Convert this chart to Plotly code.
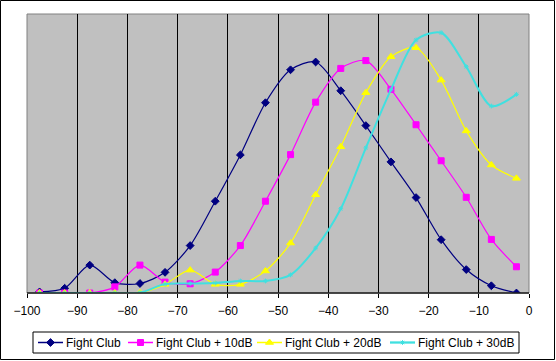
import plotly.graph_objects as go

x_db = [-97.5, -92.5, -87.5, -82.5, -77.5, -72.5, -67.5, -62.5, -57.5, -52.5,
        -47.5, -42.5, -37.5, -32.5, -27.5, -22.5, -17.5, -12.5, -7.5, -2.5]

fight_club = [0.4, 1.7, 10.0, 3.7, 3.4, 7.4, 17.0, 32.9, 49.5, 68.2,
              80.0, 82.8, 72.5, 60.0, 47.0, 34.2, 19.1, 8.4, 2.6, 0.0]
fight_club_10 = [0.0, 0.0, 0.0, 2.2, 10.0, 3.9, 3.3, 7.5, 17.0, 32.9,
                 49.6, 68.4, 80.5, 83.3, 73.0, 60.3, 47.4, 34.3, 19.2, 9.4]
fight_club_20 = [0.0, 0.0, 0.0, 0.0, 0.1, 3.1, 8.2, 3.1, 3.1, 7.9,
                 17.9, 35.2, 52.4, 71.8, 84.7, 87.9, 76.3, 58.1, 45.9, 41.1]
fight_club_30 = [0.0, 0.0, 0.0, 0.0, 0.1, 3.2, 3.4, 3.6, 4.3, 4.3,
                 6.5, 16.1, 30.2, 52.0, 72.9, 90.7, 93.3, 81.1, 67.0, 71.2]

series_names = ["Fight Club", "Fight Club + 10dB", "Fight Club + 20dB", "Fight Club + 30dB"]
tick_vals = [-100, -90, -80, -70, -60, -50, -40, -30, -20, -10, 0]

styles = [
    dict(color="#000080", symbol="diamond", size=6, width=1.2),
    dict(color="#FF00FF", symbol="square", size=6, width=1.2),
    dict(color="#FFFF00", symbol="triangle-up", size=7, width=1.2),
    dict(color="#40E0E0", symbol="asterisk-open", size=4, width=2),
]

# figure geometry (pixels)
W, H = 556, 361
PLOT_L, PLOT_R, PLOT_T, PLOT_B = 27, 529, 14, 293


def px(x):
    return x / W


def py(y):
    return (H - y) / H


# legend layout (pixels)
legend_text_x = [66, 156, 285, 418]
legend_y = 342.5
LB_L, LB_T, LB_R, LB_B = 33, 332, 519, 353

fig = go.Figure()
for name, ys, st in zip(series_names, [fight_club, fight_club_10, fight_club_20, fight_club_30], styles):
    fig.add_trace(go.Scatter(
        x=x_db, y=ys, name=name, mode="lines+markers", showlegend=False,
        line=dict(color=st["color"], width=st["width"], shape="spline", smoothing=0.8),
        marker=dict(color=st["color"], symbol=st["symbol"], size=st["size"],
                    line=dict(color=st["color"], width=1)),
    ))

shapes = [
    # gray plot area (drawn beneath grid and traces)
    dict(type="rect", xref="paper", yref="paper",
         x0=px(PLOT_L), x1=px(PLOT_R), y0=py(PLOT_B), y1=py(PLOT_T),
         fillcolor="#C0C0C0", line=dict(color="#808080", width=1), layer="below"),
    # bottom axis line
    dict(type="line", xref="paper", yref="paper",
         x0=px(PLOT_L), x1=px(PLOT_R), y0=py(PLOT_B), y1=py(PLOT_B),
         line=dict(color="#202020", width=1.5)),
    # chart area border
    dict(type="rect", xref="paper", yref="paper",
         x0=px(0.5), x1=px(W - 1.5), y0=py(H - 1.5), y1=py(0.5),
         line=dict(color="black", width=1)),
    # legend box
    dict(type="rect", xref="paper", yref="paper",
         x0=px(LB_L), x1=px(LB_R), y0=py(LB_B), y1=py(LB_T),
         line=dict(color="black", width=1)),
]
annotations = []
for name, st, tx in zip(series_names, styles, legend_text_x):
    shapes.append(dict(type="line", xref="paper", yref="paper",
                       x0=px(tx - 28), x1=px(tx - 3), y0=py(legend_y), y1=py(legend_y),
                       line=dict(color=st["color"], width=st["width"] + 0.3)))
    annotations.append(dict(xref="paper", yref="paper", x=px(tx - 2), y=py(legend_y),
                            xanchor="left", yanchor="middle", showarrow=False,
                            text=name, font=dict(size=12, color="black")))
    # legend marker on a pixel-scaled legend subplot
    fig.add_trace(go.Scatter(
        x=[tx - 15.5], y=[legend_y], mode="markers", showlegend=False,
        xaxis="x2", yaxis="y2", hoverinfo="skip",
        marker=dict(color=st["color"], symbol=st["symbol"], size=st["size"],
                    line=dict(color=st["color"], width=1)),
    ))

fig.update_layout(
    width=W, height=H,
    margin=dict(l=0, r=0, t=0, b=0, pad=0, autoexpand=False),
    paper_bgcolor="white",
    plot_bgcolor="rgba(0,0,0,0)",
    font=dict(family="Liberation Sans, Arial", size=12, color="black"),
    showlegend=False,
    xaxis=dict(
        domain=[px(PLOT_L), px(PLOT_R)], anchor="y",
        range=[-100, 0], tickmode="array", tickvals=tick_vals,
        showgrid=True, gridcolor="black", gridwidth=1,
        zeroline=False, showline=False,
        ticks="outside", ticklen=4, tickcolor="black",
        tickfont=dict(size=12), ticklabelstandoff=3,
    ),
    yaxis=dict(
        domain=[py(PLOT_B), py(PLOT_T)], anchor="x",
        range=[0, 100], showgrid=False, zeroline=False,
        showticklabels=False, ticks="", showline=False,
    ),
    xaxis2=dict(domain=[px(LB_L), px(LB_R)], anchor="y2", range=[LB_L, LB_R],
                visible=False, fixedrange=True),
    yaxis2=dict(domain=[py(LB_B), py(LB_T)], anchor="x2", range=[LB_B, LB_T],
                visible=False, fixedrange=True),
    shapes=shapes,
    annotations=annotations,
)

fig.write_html(
    "out.html",
    config={"displayModeBar": False},
    post_script="document.body.style.margin='0px';document.body.style.overflow='hidden';",
)
